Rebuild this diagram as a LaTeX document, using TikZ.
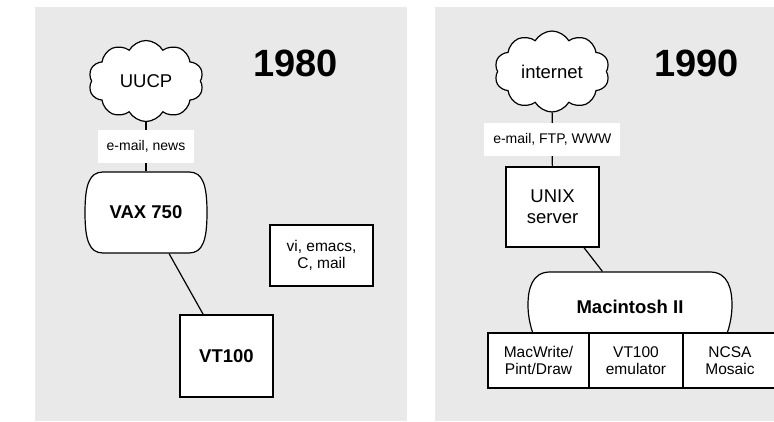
\documentclass[tikz,border=0pt]{standalone}
\usepackage{fontspec}
\setmainfont{Liberation Sans}
\usepackage{xcolor}
\usepackage{tikz}
\usetikzlibrary{shapes,positioning}

\definecolor{panelgray}{RGB}{233,233,233}

\newcommand{\bigfont}{\fontsize{18.5}{21}\selectfont}
\newcommand{\midfont}{\fontsize{15.5}{17.5}\selectfont}
\newcommand{\smallfont}{\fontsize{14}{16}\selectfont}

\tikzset{
    netcloud/.style={draw, cloud, cloud puffs=10, cloud puff arc=120, cloud ignores aspect,
        inner sep=1pt, fill=white, minimum width=115pt, minimum height=81pt, font=\bigfont},
    hostbox/.style={draw, fill=white, rectangle, font=\bigfont, align=center},
    linklabel/.style={fill=white, inner xsep=9pt, minimum height=33pt, font=\smallfont},
    appbox/.style={draw, fill=white, rectangle, outer sep=0pt, minimum height=55pt,
        font=\midfont, align=center},
    yearlabel/.style={font=\fontsize{38}{40}\selectfont\bfseries}
}

\begin{document}
\begin{tikzpicture}[x=1pt, y=-1pt, line width=1.2pt]
    \useasboundingbox (0,0) rectangle (774,421);
    % Panels
    \fill[panelgray] (35,7) rectangle (407,421);
    \fill[panelgray] (435,7) rectangle (774,421);

    % 1980: UUCP, VAX and terminal
    \node[yearlabel] (y1980) at (295.5,63) {1980};
    \node[netcloud] (uucp) at (146,81) {UUCP};
    \coordinate (vaxc) at (146,212.5);
    \draw[fill=white, shift={(vaxc)}] (-43,-40.5) -- (43,-40.5)
        .. controls (57,-40.5) and (61,-27) .. (61,0)
        .. controls (61,27) and (57,40.5) .. (43,40.5) -- (-43,40.5)
        .. controls (-57,40.5) and (-61,27) .. (-61,0)
        .. controls (-61,-27) and (-57,-40.5) .. (-43,-40.5) -- cycle;
    \node[minimum width=122pt, minimum height=81pt, font=\bigfont\bfseries] (vax) at (vaxc) {VAX 750};
    \node[hostbox, minimum width=93pt, minimum height=82pt, font=\bigfont\bfseries] (vt) at (226.5,356) {VT100};
    \node[hostbox, minimum width=103pt, minimum height=61pt, font=\midfont] (tools) at (321.5,255.5) {vi, emacs,\\C, mail};
    \draw (uucp) -- node[linklabel] {e-mail, news} (vax);
    \draw (vax) -- (vt);

    % 1990: internet, UNIX server and Mac
    \node[yearlabel] (y1990) at (696.5,63) {1990};
    \node[netcloud] (inet) at (552,71.5) {internet};
    \node[hostbox, minimum width=93pt, minimum height=80pt] (unix) at (552.5,207) {UNIX\\server};
    \coordinate (macc) at (630,307);
    \draw[fill=white, shift={(macc)}] (-80,-35) -- (80,-35)
        .. controls (98,-35) and (102,-18) .. (102,-2)
        .. controls (102,14) and (97,30) .. (90,42) -- (-90,42)
        .. controls (-97,30) and (-102,14) .. (-102,-2)
        .. controls (-102,-18) and (-98,-35) .. (-80,-35) -- cycle;
    \node[minimum width=204pt, minimum height=70pt, font=\bigfont\bfseries] (mac) at (macc) {Macintosh II};
    \draw (inet) -- node[linklabel] {e-mail, FTP, WWW} (unix);
    \draw (unix) -- (mac);

    % Applications on the Mac
    \node[appbox, minimum width=101pt] (macwrite) at (538.5,360.5) {MacWrite/\\Pint/Draw};
    \node[appbox, minimum width=94pt, right=0pt of macwrite] (emu) {VT100\\emulator};
    \node[appbox, minimum width=94pt, right=0pt of emu] (mosaic) {NCSA\\Mosaic};
\end{tikzpicture}
\end{document}
